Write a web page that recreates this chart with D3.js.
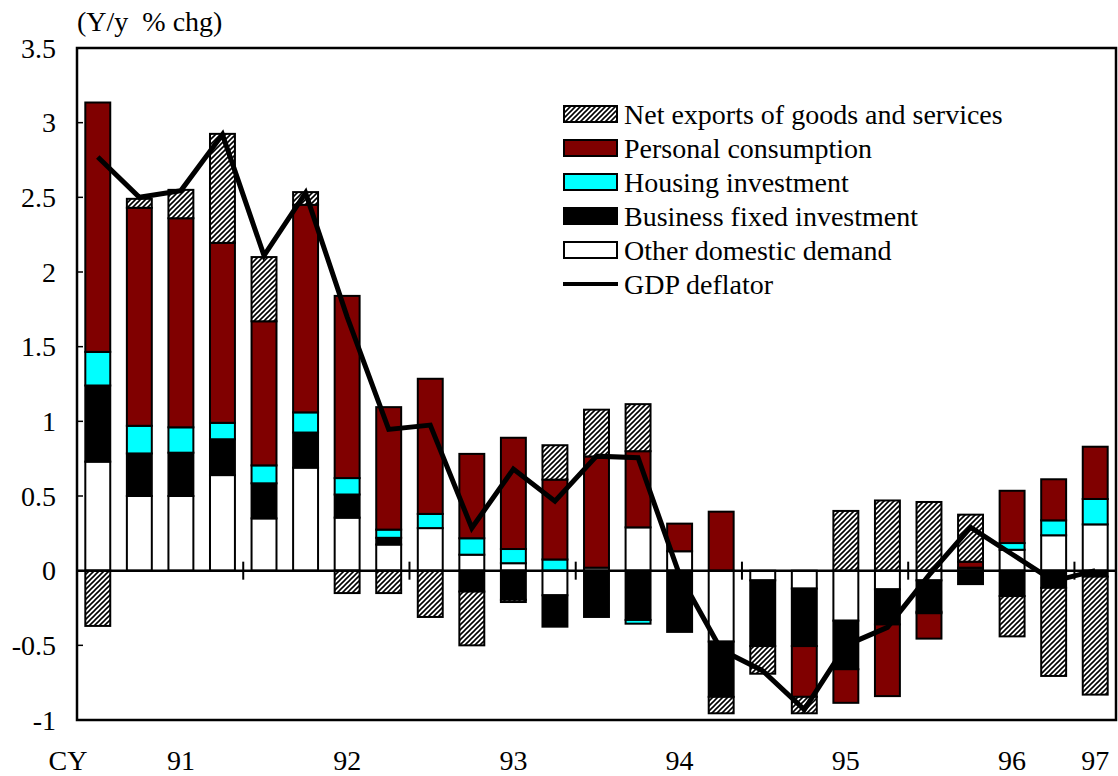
<!DOCTYPE html>
<html>
<head>
<meta charset="utf-8">
<script src="https://cdn.jsdelivr.net/npm/d3@7/dist/d3.min.js"></script>
<style>
  body { margin: 0; background: #fff; }
  svg text { font-family: "Liberation Serif", "Times New Roman", serif; fill: #000; font-size: 28px; }
</style>
</head>
<body>
<svg id="chart" width="1118" height="776"></svg>
<script>
// quarters, CY1991 Q1 .. CY1997 Q1
var periods = ["91Q1", "91Q2", "91Q3", "91Q4", "92Q1", "92Q2", "92Q3", "92Q4",
    "93Q1", "93Q2", "93Q3", "93Q4", "94Q1", "94Q2", "94Q3", "94Q4",
    "95Q1", "95Q2", "95Q3", "95Q4", "96Q1", "96Q2", "96Q3", "96Q4", "97Q1"];

// contributions (% points)
var otherDemand = [0.73, 0.50, 0.50, 0.64, 0.35, 0.69, 0.355, 0.175, 0.285, 0.107, 0.05, -0.165, 0.02,
    0.29, 0.13, -0.475, -0.065, -0.12, -0.335, -0.125, -0.065, 0.015, 0.14, 0.237, 0.31];
var businessInv = [0.51, 0.285, 0.29, 0.24, 0.235, 0.235, 0.155, 0.045, 0, -0.14, -0.195, -0.21, -0.31,
    -0.33, -0.41, -0.37, -0.44, -0.385, -0.325, -0.235, -0.21, -0.09, -0.17, -0.115, -0.04];
var housingInv = [0.225, 0.185, 0.17, 0.11, 0.12, 0.135, 0.11, 0.055, 0.095, 0.11, 0.095, 0.075, 0,
    -0.025, 0, 0, 0, 0, 0, 0, -0.01, 0.005, 0.045, 0.10, 0.17];
var consumption = [1.67, 1.46, 1.40, 1.205, 0.965, 1.39, 1.22, 0.82, 0.905, 0.565, 0.745, 0.535, 0.745,
    0.51, 0.185, 0.395, 0, -0.34, -0.225, -0.48, -0.17, 0.04, 0.35, 0.275, 0.35];
var netExports = [-0.37, 0.06, 0.19, 0.73, 0.43, 0.085, -0.15, -0.15, -0.31, -0.36, -0.015, 0.23, 0.313,
    0.315, 0, -0.11, -0.185, -0.11, 0.40, 0.47, 0.46, 0.315, -0.27, -0.59, -0.79];
var gdpDeflator = [2.77, 2.50, 2.545, 2.92, 2.11, 2.53, 1.70, 0.946, 0.975, 0.286, 0.68, 0.465, 0.767,
    0.756, -0.03, -0.53, -0.67, -0.93, -0.50, -0.38, -0.03, 0.29, 0.11, -0.07, 0.0];

var yTicks = [-1, -0.5, 0, 0.5, 1, 1.5, 2, 2.5, 3, 3.5];
var yearLabels = ["91", "92", "93", "94", "95", "96", "97"];
var yearLabelAt = ["91Q3", "92Q3", "93Q3", "94Q3", "95Q3", "96Q3", "97Q1"];
var yearStarts = ["92Q1", "93Q1", "94Q1", "95Q1", "96Q1", "97Q1"];

var seriesKeys = ["other", "business", "housing", "consumption", "netExports"];
var seriesNames = {
    netExports: "Net exports of goods and services",
    consumption: "Personal consumption",
    housing: "Housing investment",
    business: "Business fixed investment",
    other: "Other domestic demand"
};
var seriesFill = {
    netExports: "url(#hatch)",
    consumption: "#800000",
    housing: "#00ffff",
    business: "#000000",
    other: "#ffffff"
};

var rows = periods.map(function(p, i) {
    return {
        period: p,
        other: otherDemand[i],
        business: businessInv[i],
        housing: housingInv[i],
        consumption: consumption[i],
        netExports: netExports[i],
        deflator: gdpDeflator[i]
    };
});

var svg = d3.select("#chart");
var plotL = 77, plotR = 1116, plotT = 48, plotB = 720;

var x = d3.scaleBand().domain(periods).range([plotL, plotR]).paddingInner(0.4).paddingOuter(0.2);
var y = d3.scaleLinear().domain([-1, 3.5]).range([plotB, plotT]);

// hatch for net exports
var defs = svg.append("defs");
defs.append("pattern")
    .attr("id", "hatch").attr("patternUnits", "userSpaceOnUse")
    .attr("width", 5).attr("height", 5)
    .call(function(p) {
        p.append("rect").attr("width", 5).attr("height", 5).attr("fill", "#fff");
        p.append("path").attr("d", "M-1,1 l2,-2 M0,5 l5,-5 M4,6 l2,-2")
            .attr("stroke", "#000").attr("stroke-width", 1.6);
    });

var stacked = d3.stack().keys(seriesKeys).offset(d3.stackOffsetDiverging)(rows);

svg.append("g").selectAll("g").data(stacked).join("g")
    .attr("fill", function(s) { return seriesFill[s.key]; })
    .selectAll("rect").data(function(s) { return s.filter(function(d) { return d[1] - d[0] !== 0; }); })
    .join("rect")
    .attr("x", function(d) { return x(d.data.period); })
    .attr("width", x.bandwidth())
    .attr("y", function(d) { return y(Math.max(d[0], d[1])); })
    .attr("height", function(d) { return Math.abs(y(d[0]) - y(d[1])); })
    .attr("stroke", "#000").attr("stroke-width", 2);

// zero line and year ticks
svg.append("line")
    .attr("x1", plotL).attr("x2", plotR).attr("y1", y(0)).attr("y2", y(0))
    .attr("stroke", "#000").attr("stroke-width", 2.5);
svg.append("g").selectAll("line").data(yearStarts).join("line")
    .attr("x1", function(p) { return x(p) - x.step() * x.paddingInner() / 2; })
    .attr("x2", function(p) { return x(p) - x.step() * x.paddingInner() / 2; })
    .attr("y1", y(0) - 9).attr("y2", y(0) + 9)
    .attr("stroke", "#000").attr("stroke-width", 2);

// GDP deflator
var line = d3.line()
    .x(function(d) { return x(d.period) + x.bandwidth() / 2; })
    .y(function(d) { return y(d.deflator); });
svg.append("path").datum(rows)
    .attr("d", line).attr("fill", "none")
    .attr("stroke", "#000").attr("stroke-width", 5).attr("stroke-linejoin", "miter");

// frame
svg.append("rect")
    .attr("x", plotL).attr("y", plotT).attr("width", plotR - plotL).attr("height", plotB - plotT)
    .attr("fill", "none").attr("stroke", "#000").attr("stroke-width", 2.5);

// y axis
var yAxis = svg.append("g");
yAxis.selectAll("line").data(yTicks).join("line")
    .attr("x1", plotL).attr("x2", plotL + 6)
    .attr("y1", function(v) { return y(v); }).attr("y2", function(v) { return y(v); })
    .attr("stroke", "#000").attr("stroke-width", 1.5);
yAxis.selectAll("text").data(yTicks).join("text")
    .attr("x", 56).attr("y", function(v) { return y(v); })
    .attr("dy", "0.35em").attr("text-anchor", "end")
    .text(function(v) { return String(v); });

svg.append("text")
    .attr("x", 77).attr("y", 31)
    .attr("xml:space", "preserve")
    .text("(Y/y  % chg)");

// x labels
svg.append("text").attr("x", 68).attr("y", 770).attr("text-anchor", "middle").text("CY");
svg.append("g").selectAll("text").data(yearLabels).join("text")
    .attr("x", function(t, i) { return x(yearLabelAt[i]) + x.bandwidth() / 2; })
    .attr("y", 770).attr("text-anchor", "middle")
    .text(function(t) { return t; });

// legend
var legendKeys = ["netExports", "consumption", "housing", "business", "other"];
var legend = svg.append("g").attr("transform", "translate(563,114)");
legendKeys.forEach(function(k, i) {
    var g = legend.append("g").attr("transform", "translate(0," + (i * 34) + ")");
    g.append("rect").attr("x", 1).attr("y", -8).attr("width", 53).attr("height", 16)
        .attr("fill", seriesFill[k]).attr("stroke", "#000").attr("stroke-width", 2);
    g.append("text").attr("x", 61).attr("y", 0).attr("dy", "0.35em").text(seriesNames[k]);
});
var lg = legend.append("g").attr("transform", "translate(0," + (5 * 34) + ")");
lg.append("line").attr("x1", 0).attr("x2", 55).attr("y1", 0).attr("y2", 0)
    .attr("stroke", "#000").attr("stroke-width", 4);
lg.append("text").attr("x", 61).attr("y", 0).attr("dy", "0.35em").text("GDP deflator");
</script>
</body>
</html>
